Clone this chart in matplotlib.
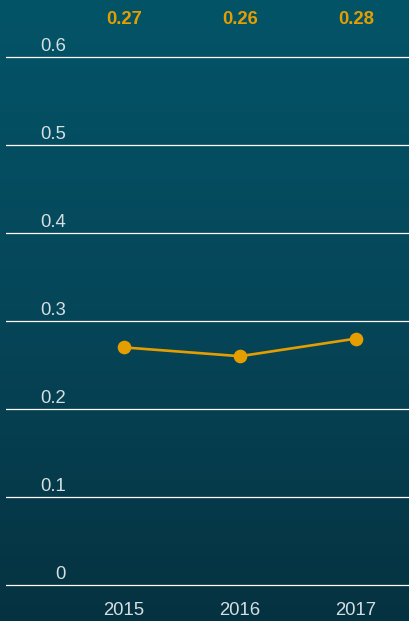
import numpy as np
import matplotlib.pyplot as plt
from matplotlib.colors import LinearSegmentedColormap
import matplotlib.transforms as mtransforms

plt.rcParams['font.family'] = ['Liberation Sans', 'DejaVu Sans']

years = ['2015', '2016', '2017']
values = [0.27, 0.26, 0.28]
y_ticks = [0, 0.1, 0.2, 0.3, 0.4, 0.5, 0.6]
y_tick_labels = ['0', '0.1', '0.2', '0.3', '0.4', '0.5', '0.6']

orange = '#E59E00'
label_grey = '#D5DEE2'

fig = plt.figure(figsize=(4.10, 6.21), dpi=100)

# dark teal backdrop, lighter at the top
bg = fig.add_axes([0, 0, 1, 1], zorder=-1)
cmap = LinearSegmentedColormap.from_list('sea', ['#053240', '#064659', '#035468'])
bg.imshow(np.linspace(0, 1, 256)[:, None], aspect='auto', cmap=cmap,
          origin='lower', extent=[0, 1, 0, 1])
bg.set_axis_off()

# 88 px per 0.1, zero line at y=585 px, x slots every 116 px starting at 124 px
W, H = 410, 621
ymin, ymax = -0.01, 0.61
px_per_unit = 880
bottom_px = 585 + (0 - ymin) * px_per_unit
top_px = 57 - (ymax - 0.6) * px_per_unit
left_px, right_px = 6, 410
xmin = (left_px - 124) / 116
xmax = (right_px - 124) / 116

ax = fig.add_axes([left_px / W, (H - bottom_px) / H,
                   (right_px - left_px) / W, (bottom_px - top_px) / H])
ax.patch.set_alpha(0)
ax.set_xlim(xmin, xmax)
ax.set_ylim(ymin, ymax)
for s in ax.spines.values():
    s.set_visible(False)
ax.set_xticks([])
ax.set_yticks([])

for v in y_ticks:
    ax.axhline(v, color='white', lw=0.9, zorder=1)

# y labels sit just above their grid line, right aligned
ylab_tr = ax.get_yaxis_transform() + mtransforms.ScaledTranslation(0, 4 / 72, fig.dpi_scale_trans)
for v, lab in zip(y_ticks, y_tick_labels):
    ax.text((66 - left_px) / (right_px - left_px), v, lab, transform=ylab_tr,
            ha='right', va='baseline', fontsize=13.3, color=label_grey)

x = np.arange(len(years))
ax.plot(x, values, color=orange, lw=1.9, marker='o', ms=8.8, zorder=3)

x_fig = mtransforms.blended_transform_factory(ax.transData, fig.transFigure)

# value labels across the top
for xi, v in zip(x, values):
    ax.text(xi, (H - 24) / H, f'{v:.2f}', fontsize=13.3, fontweight='bold',
            color=orange, ha='center', va='baseline', transform=x_fig)

for xi, yr in zip(x, years):
    ax.text(xi, (H - 615) / H, yr, fontsize=13.3, color=label_grey,
            ha='center', va='baseline', transform=x_fig)

fig.savefig('out.png', dpi=100)
